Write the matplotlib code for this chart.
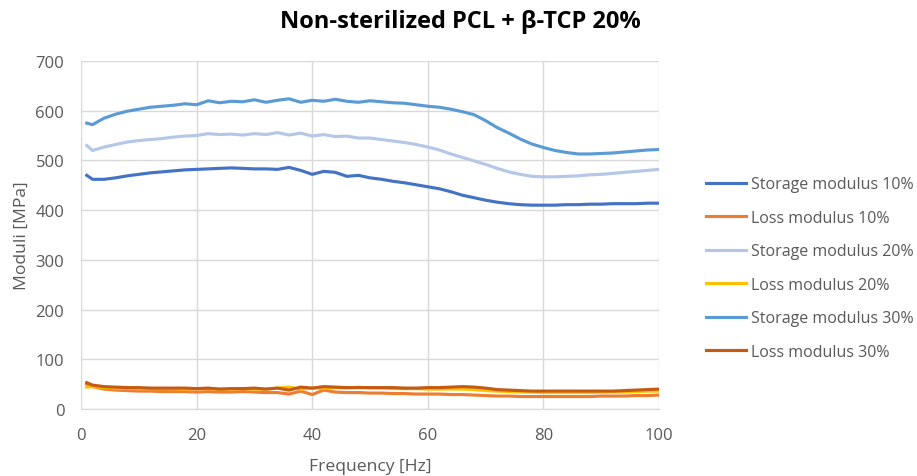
import matplotlib
matplotlib.use("Agg")
import matplotlib.pyplot as plt

plt.rcParams['font.family'] = ['Open Sans', 'DejaVu Sans']

freq = [1, 2, 4, 6, 8, 10, 12, 14, 16, 18, 20, 22, 24, 26, 28, 30, 32, 34, 36, 38,
        40, 42, 44, 46, 48, 50, 52, 54, 56, 58, 60, 62, 64, 66, 68, 70, 72, 74, 76, 78,
        80, 82, 84, 86, 88, 90, 92, 94, 96, 98, 100]

storage_10 = [470, 462, 462, 465, 469, 472, 475, 477, 479, 481, 482, 483, 484, 485, 484, 483, 483, 482, 486, 480,
              472, 478, 476, 468, 470, 465, 462, 458, 455, 451, 447, 443, 437, 430, 425, 420, 416, 413, 411, 410,
              410, 410, 411, 411, 412, 412, 413, 413, 413, 414, 414]
loss_10 = [50, 45, 40, 38, 37, 36, 36, 35, 35, 35, 34, 35, 34, 34, 35, 34, 33, 33, 30, 36,
           29, 38, 34, 33, 33, 32, 32, 31, 31, 30, 30, 30, 29, 29, 28, 27, 26, 26, 25, 25,
           25, 25, 25, 25, 25, 26, 26, 26, 27, 27, 28]
storage_20 = [530, 520, 527, 532, 537, 540, 542, 544, 547, 549, 550, 554, 552, 553, 551, 554, 552, 556, 551, 555,
              549, 552, 548, 549, 545, 545, 542, 539, 536, 532, 527, 521, 513, 506, 499, 492, 484, 477, 472, 468,
              467, 467, 468, 469, 471, 472, 474, 476, 478, 480, 482]
loss_20 = [44, 45, 43, 42, 42, 41, 41, 41, 41, 40, 41, 41, 40, 40, 41, 40, 40, 42, 44, 40,
           42, 42, 43, 42, 44, 42, 42, 41, 41, 41, 40, 40, 40, 40, 39, 37, 36, 35, 34, 34,
           33, 33, 33, 33, 33, 34, 34, 34, 35, 36, 36]
storage_30 = [575, 572, 585, 593, 599, 603, 607, 609, 611, 614, 612, 620, 616, 619, 618, 622, 617, 621, 624, 617,
              621, 619, 623, 619, 617, 620, 618, 616, 615, 612, 609, 607, 603, 598, 592, 580, 566, 555, 543, 533,
              526, 520, 516, 513, 513, 514, 515, 517, 519, 521, 522]
loss_30 = [53, 48, 45, 44, 43, 43, 42, 42, 42, 42, 41, 42, 40, 41, 41, 42, 40, 42, 38, 44,
           42, 45, 44, 43, 43, 43, 43, 43, 42, 42, 43, 43, 44, 45, 44, 42, 39, 38, 37, 36,
           36, 36, 36, 36, 36, 36, 36, 37, 38, 39, 40]

series = [
    ("Storage modulus 10%", storage_10, "#4472C4"),
    ("Loss modulus 10%", loss_10, "#ED7D31"),
    ("Storage modulus 20%", storage_20, "#B4C7E7"),
    ("Loss modulus 20%", loss_20, "#FFC000"),
    ("Storage modulus 30%", storage_30, "#5B9BD5"),
    ("Loss modulus 30%", loss_30, "#C55A11"),
]

fig = plt.figure(figsize=(9.17, 4.77), dpi=100)
ax = fig.add_axes([0.0883, 0.1405, 0.6304, 0.7295])

for label, values, color in series:
    ax.plot(freq, values, color=color, linewidth=2.25, label=label)

ax.set_xlim(0, 100)
ax.set_ylim(0, 700)
ax.set_xticks(range(0, 101, 20))
ax.set_yticks(range(0, 701, 100))
ax.grid(True, color="#D9D9D9", linewidth=1)
ax.set_axisbelow(True)
for side in ["top", "right", "left"]:
    ax.spines[side].set_visible(False)
ax.spines["bottom"].set_color("#D9D9D9")
ax.tick_params(length=0, labelsize=12, colors="#595959")
ax.tick_params(axis="x", pad=13)
ax.tick_params(axis="y", pad=12)

ax.set_xlabel("Frequency [Hz]", fontsize=12.6, color="#595959", labelpad=11)
ax.set_ylabel("Moduli [MPa]", fontsize=12.6, color="#595959", labelpad=4)
fig.suptitle("Non-sterilized PCL + β-TCP 20%", fontsize=17, fontweight="bold", x=0.502, y=0.98)

leg = ax.legend(loc="center left", bbox_to_anchor=(1.057, 0.405), frameon=False,
                fontsize=11.5, handlelength=2.5, labelspacing=1.1, handletextpad=0.3)
for text in leg.get_texts():
    text.set_color("#595959")

fig.savefig("out.png", dpi=100)
